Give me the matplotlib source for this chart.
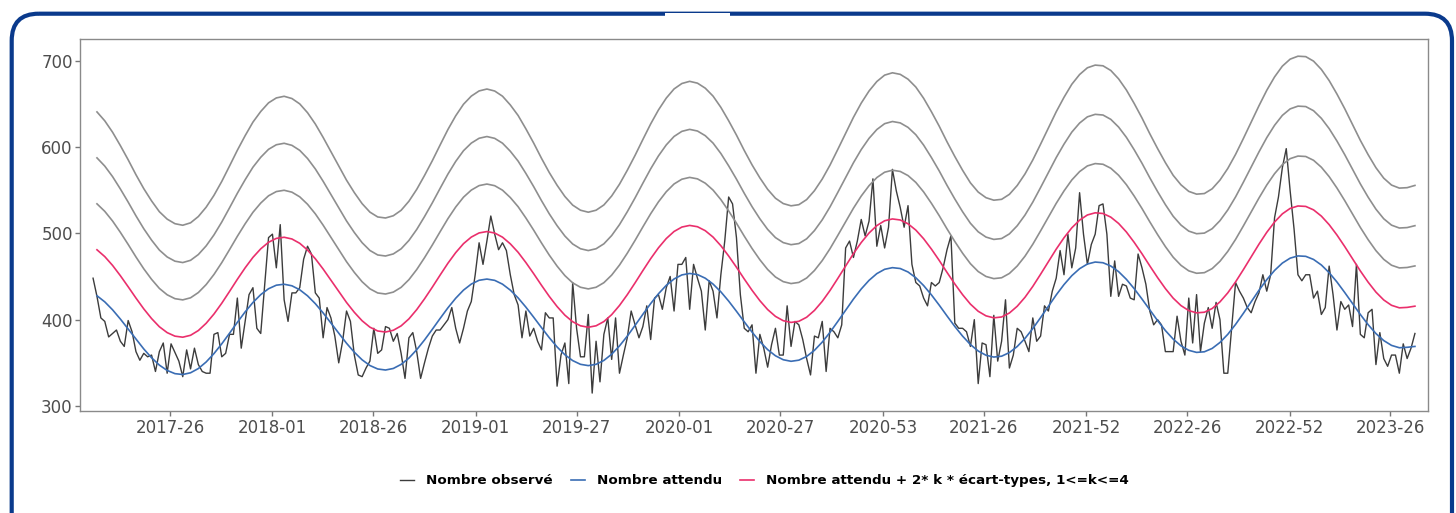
import matplotlib
matplotlib.use("Agg")
import matplotlib.pyplot as plt
from matplotlib.lines import Line2D
from matplotlib.patches import FancyBboxPatch, Rectangle
import pandas as pd
import numpy as np

# --- weekly observed counts, first week starting 2017-02-13 ---
obs_start = "2017-02-13"
observed = [
    448, 427, 402, 398, 380, 384, 388, 375, 369, 399,
    386, 363, 353, 361, 357, 359, 340, 363, 373, 338,
    372, 362, 352, 334, 365, 343, 367, 348, 340, 338,
    338, 383, 385, 357, 361, 383, 383, 425, 367, 398,
    429, 437, 390, 384, 440, 495, 499, 460, 510, 423,
    398, 431, 431, 437, 470, 485, 476, 431, 425, 379,
    414, 402, 381, 350, 375, 410, 398, 359, 336, 334,
    344, 352, 390, 361, 365, 392, 390, 375, 384, 361,
    332, 379, 385, 363, 332, 350, 367, 381, 388, 388,
    394, 400, 414, 390, 373, 390, 410, 421, 452, 489,
    464, 491, 520, 499, 481, 489, 480, 452, 429, 417,
    379, 410, 381, 390, 375, 365, 408, 402, 402, 323,
    359, 373, 326, 443, 390, 357, 357, 406, 315, 375,
    328, 383, 402, 354, 402, 338, 359, 379, 410, 394,
    379, 392, 416, 377, 425, 429, 412, 437, 450, 410,
    464, 464, 472, 412, 464, 448, 433, 388, 445, 433,
    402, 452, 491, 542, 534, 495, 429, 390, 386, 394,
    338, 383, 367, 345, 371, 390, 359, 359, 416, 369,
    398, 394, 377, 355, 336, 381, 379, 398, 340, 390,
    386, 379, 394, 483, 491, 472, 491, 516, 497, 514,
    563, 485, 509, 483, 507, 574, 549, 530, 507, 532,
    464, 443, 439, 425, 416, 443, 439, 443, 460, 481,
    497, 396, 390, 390, 386, 369, 400, 326, 373, 371,
    334, 405, 352, 375, 423, 344, 359, 390, 386, 375,
    363, 402, 375, 381, 416, 410, 433, 448, 480, 452,
    499, 460, 483, 547, 499, 464, 487, 499, 532, 534,
    499, 427, 468, 427, 441, 439, 425, 423, 476, 460,
    441, 410, 394, 400, 394, 363, 363, 363, 404, 375,
    359, 425, 373, 429, 363, 396, 414, 390, 420, 400,
    338, 338, 390, 443, 433, 425, 414, 408, 421, 431,
    452, 433, 452, 518, 542, 576, 598, 549, 505, 452,
    445, 452, 452, 425, 433, 406, 414, 462, 429, 388,
    421, 412, 417, 392, 464, 383, 379, 408, 412, 348,
    385, 355, 346, 359, 359, 338, 372, 355, 367, 384,
]

# --- expected counts and standard deviation, read every 2 weeks from 2017-02-20 ---
exp_start = "2017-02-20"
expected = [
    427.7, 420.6, 411.4, 400.7, 389.1, 377.4, 366.1, 355.9, 347.4, 341.2,
    337.5, 336.5, 338.5, 343.4, 351.0, 360.7, 372.0, 384.3, 396.9, 409.0,
    419.9, 429.0, 435.8, 439.9, 441.0, 439.2, 434.6, 427.6, 418.5, 407.8,
    396.1, 384.2, 372.7, 362.3, 353.5, 346.9, 342.9, 341.7, 343.5, 348.2,
    355.5, 365.2, 376.5, 388.8, 401.4, 413.7, 424.8, 434.2, 441.2, 445.6,
    447.0, 445.5, 441.1, 434.2, 425.2, 414.5, 402.8, 390.8, 379.1, 368.4,
    359.4, 352.6, 348.3, 346.8, 348.3, 352.8, 360.0, 369.6, 380.9, 393.4,
    406.2, 418.6, 430.0, 439.7, 447.1, 451.8, 453.5, 452.2, 448.0, 441.2,
    432.2, 421.5, 409.7, 397.5, 385.6, 374.6, 365.3, 358.2, 353.6, 351.8,
    353.1, 357.4, 364.5, 374.0, 385.4, 398.0, 411.0, 423.8, 435.5, 445.5,
    453.3, 458.3, 460.2, 459.2, 455.2, 448.5, 439.5, 428.7, 416.8, 404.3,
    392.1, 380.9, 371.2, 363.7, 358.8, 356.7, 357.7, 361.9, 368.9, 378.3,
    389.7, 402.4, 415.6, 428.6, 440.6, 450.9, 459.0, 464.4, 466.7, 465.9,
    462.1, 455.6, 446.7, 435.9, 423.9, 411.3, 398.9, 387.4, 377.5, 369.7,
    364.5, 362.1, 362.8, 366.7, 373.6, 383.0, 394.5, 407.3, 420.7, 434.0,
    446.3, 457.0, 465.5, 471.2, 473.8, 473.3, 469.7, 463.3, 454.4, 443.6,
    431.4, 418.6, 406.0, 394.2, 383.9, 375.8, 370.2, 367.5, 368.0, 369.0,
]
ecart_type = [
    26.6, 26.2, 25.7, 25.1, 24.5, 23.8, 23.2, 22.7, 22.2, 21.9,
    21.7, 21.6, 21.7, 22.0, 22.4, 22.9, 23.5, 24.2, 24.9, 25.5,
    26.1, 26.5, 26.9, 27.1, 27.2, 27.1, 26.9, 26.5, 26.0, 25.4,
    24.8, 24.2, 23.6, 23.1, 22.6, 22.2, 22.0, 22.0, 22.1, 22.3,
    22.7, 23.2, 23.8, 24.4, 25.1, 25.8, 26.4, 26.9, 27.2, 27.4,
    27.5, 27.4, 27.2, 26.8, 26.4, 25.8, 25.2, 24.5, 23.9, 23.4,
    22.9, 22.5, 22.3, 22.2, 22.3, 22.5, 22.9, 23.4, 24.0, 24.6,
    25.3, 26.0, 26.6, 27.1, 27.5, 27.7, 27.8, 27.7, 27.5, 27.2,
    26.7, 26.1, 25.5, 24.8, 24.2, 23.7, 23.2, 22.8, 22.6, 22.5,
    22.5, 22.7, 23.1, 23.6, 24.2, 24.9, 25.6, 26.3, 26.9, 27.4,
    27.8, 28.1, 28.2, 28.1, 27.9, 27.6, 27.1, 26.5, 25.9, 25.2,
    24.6, 24.0, 23.4, 23.0, 22.8, 22.7, 22.7, 22.9, 23.3, 23.8,
    24.4, 25.1, 25.8, 26.5, 27.1, 27.7, 28.1, 28.4, 28.5, 28.5,
    28.3, 27.9, 27.4, 26.8, 26.2, 25.5, 24.9, 24.3, 23.7, 23.3,
    23.0, 22.9, 22.9, 23.1, 23.5, 24.0, 24.6, 25.3, 26.0, 26.7,
    27.4, 28.0, 28.5, 28.8, 28.9, 28.9, 28.7, 28.3, 27.8, 27.2,
    26.6, 25.9, 25.2, 24.6, 24.0, 23.5, 23.2, 23.1, 23.1, 23.3,
]

tick_dates = ["2017-07-01", "2018-01-01", "2018-07-01", "2019-01-01", "2019-07-01",
              "2020-01-01", "2020-07-01", "2021-01-01", "2021-07-01", "2022-01-01",
              "2022-07-01", "2023-01-01", "2023-07-01"]
y_ticks = [300, 400, 500, 600, 700]

legend_labels = ["Nombre observé", "Nombre attendu",
                 "Nombre attendu + 2* k * écart-types, 1<=k<=4"]

c_obs = "#3c3c3c"
c_exp = "#3a6db4"
c_thr = "#ea2f6c"
c_grey = "#8e8e8e"
c_border = "#0a3a8c"

obs_dates = pd.date_range(obs_start, periods=len(observed), freq="7D")
exp_dates = pd.date_range(exp_start, periods=len(expected), freq="14D")
exp_arr = np.array(expected)
sd_arr = np.array(ecart_type)

fig = plt.figure(figsize=(14.56, 5.13), dpi=100)

# frame drawn in pixel coordinates
bg = fig.add_axes([0, 0, 1, 1], zorder=0)
bg.set_xlim(0, 1456)
bg.set_ylim(513, 0)
bg.axis("off")
bg.add_patch(FancyBboxPatch((11.7, 13.7), 1440.3, 600, boxstyle="round,pad=0,rounding_size=27",
                            fill=False, edgecolor=c_border, linewidth=3.0))
bg.add_patch(Rectangle((665, 13.4), 65, 3.5, facecolor="white", edgecolor="none", zorder=5))

ax = fig.add_axes([79.7 / 1456, 1 - 410.7 / 513, 1348.6 / 1456, 372.2 / 513], zorder=1)

ax.plot(obs_dates, observed, color=c_obs, lw=1.0)
ax.plot(exp_dates, exp_arr, color=c_exp, lw=1.2)
for k in [4, 3, 2]:
    ax.plot(exp_dates, exp_arr + 2 * k * sd_arr, color=c_grey, lw=1.2)
ax.plot(exp_dates, exp_arr + 2 * sd_arr, color=c_thr, lw=1.2)

ax.set_xlim(pd.Timestamp("2017-01-20"), pd.Timestamp("2023-09-07"))
ax.set_ylim(294.6, 725.5)

ticks = pd.to_datetime(tick_dates)
ax.set_xticks(ticks)
ax.set_xticklabels(["%d-%02d" % (t.isocalendar()[0], t.isocalendar()[1]) for t in ticks])
ax.set_yticks(y_ticks)

for sp in ax.spines.values():
    sp.set_color("#8a8a8a")
    sp.set_linewidth(1.0)
ax.tick_params(axis="both", colors="#777777", length=3.5, width=1.0,
               labelcolor="#4d4d4d", labelsize=12)
ax.tick_params(axis="y", pad=1.5)
ax.tick_params(axis="x", pad=2.5)

handles = [Line2D([], [], color=c_obs, lw=1.0),
           Line2D([], [], color=c_exp, lw=1.2),
           Line2D([], [], color=c_thr, lw=1.2)]
fig.legend(handles, legend_labels, loc="center", bbox_to_anchor=(0.525, 0.0624), ncol=3,
           frameon=False, prop={"family": "DejaVu Sans", "weight": "bold", "size": 9.7},
           handlelength=1.05, handletextpad=0.9, columnspacing=1.35)

fig.savefig("out.png", dpi=100)
